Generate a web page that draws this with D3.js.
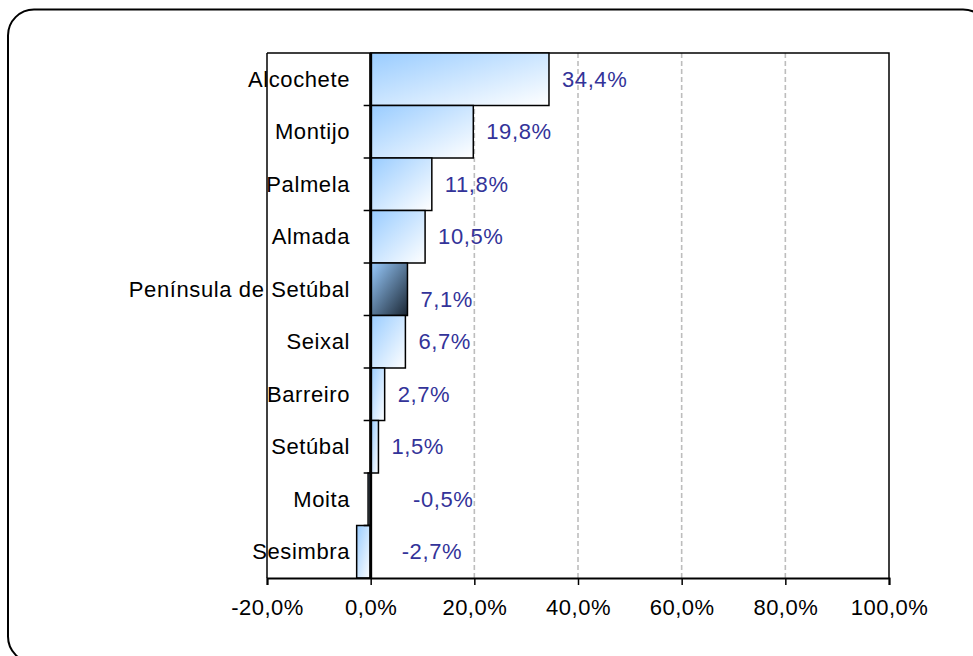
<!DOCTYPE html>
<html><head><meta charset="utf-8">
<script src="https://cdn.jsdelivr.net/npm/d3@7"></script>
<style>html,body{margin:0;padding:0;background:#fff;overflow:hidden}</style>
</head><body>
<svg id="chart" width="973" height="656"></svg>
<script>
const categories = ["Alcochete","Montijo","Palmela","Almada","Península de Setúbal","Seixal","Barreiro","Setúbal","Moita","Sesimbra"];
const values = [34.4, 19.8, 11.8, 10.5, 7.1, 6.7, 2.7, 1.5, -0.5, -2.7];
const highlight = "Península de Setúbal";
const xTicks = [-20, 0, 20, 40, 60, 80, 100];

(function () {
const svg = d3.select("#chart");
const fmt = v => d3.format(".1f")(v).replace("\u2212", "-").replace(".", ",") + "%";
const font = "'Liberation Sans', Arial, sans-serif";

const pL = 267, pR = 889, pT = 53, pB = 578;
const x = d3.scaleLinear().domain([-20, 100]).range([pL, pR]);
const y = d3.scaleBand().domain(categories).range([pT, pB]).padding(0);

// outer rounded frame
svg.append("rect").attr("x", 8).attr("y", 9.5).attr("width", 981).attr("height", 653)
  .attr("rx", 26).attr("ry", 26).attr("fill", "#fff").attr("stroke", "#000").attr("stroke-width", 2);

const defs = svg.append("defs");
const gBlue = defs.append("linearGradient").attr("id", "gBlue").attr("x1", "0").attr("y1", "0").attr("x2", "1").attr("y2", "1");
gBlue.append("stop").attr("offset", "0").attr("stop-color", "#99ccff");
gBlue.append("stop").attr("offset", "1").attr("stop-color", "#ffffff");
const gDark = defs.append("linearGradient").attr("id", "gDark").attr("x1", "0").attr("y1", "0").attr("x2", "1").attr("y2", "1");
gDark.append("stop").attr("offset", "0").attr("stop-color", "#99ccff");
gDark.append("stop").attr("offset", "1").attr("stop-color", "#1a2633");

// gridlines
svg.append("g").selectAll("line").data(xTicks.filter(t => t > 0 && t < 100)).join("line")
  .attr("x1", d => x(d)).attr("x2", d => x(d)).attr("y1", pT).attr("y2", pB)
  .attr("stroke", "#bdbdbd").attr("stroke-width", 1.6).attr("stroke-dasharray", "5,3");

// plot border
svg.append("path").attr("d", `M${pL},${pT}H${pR}V${pB}`).attr("fill", "none")
  .attr("stroke", "#000").attr("stroke-width", 1.5);
svg.append("line").attr("x1", pL).attr("x2", pL).attr("y1", pT).attr("y2", pB)
  .attr("stroke", "#000").attr("stroke-width", 1.5);

// bars
svg.append("g").selectAll("rect").data(values).join("rect")
  .attr("x", d => x(Math.min(0, d))).attr("width", d => Math.abs(x(d) - x(0)))
  .attr("y", (d, i) => y(categories[i])).attr("height", y.bandwidth())
  .attr("fill", (d, i) => categories[i] === highlight ? "url(#gDark)" : "url(#gBlue)")
  .attr("stroke", "#000").attr("stroke-width", 1.5);

// x axis
const xAxis = svg.append("g").attr("transform", `translate(0,${pB})`)
  .call(d3.axisBottom(x).tickValues(xTicks).tickFormat(fmt).tickSize(7).tickPadding(14));
xAxis.select(".domain").attr("stroke-width", 2);
xAxis.selectAll(".tick line").attr("stroke-width", 1.5);
xAxis.selectAll("text").attr("font-family", font).attr("font-size", 22).attr("fill", "#000")
  .style("letter-spacing", "0.5px");

// y axis line at 0 with ticks at category boundaries
svg.append("line").attr("x1", x(0)).attr("x2", x(0)).attr("y1", pT).attr("y2", pB)
  .attr("stroke", "#000").attr("stroke-width", 3);
svg.append("g").selectAll("line").data(categories.slice(1)).join("line")
  .attr("x1", x(0) - 7).attr("x2", x(0)).attr("y1", d => y(d)).attr("y2", d => y(d))
  .attr("stroke", "#000").attr("stroke-width", 1.5);

// category labels
svg.append("g").selectAll("text").data(categories).join("text")
  .attr("x", 350).attr("y", d => y(d) + y.bandwidth() / 2).attr("dy", "0.35em")
  .attr("text-anchor", "end").attr("font-family", font).attr("font-size", 22).attr("fill", "#000")
  .style("letter-spacing", "0.6px").text(d => d);

// value labels
svg.append("g").selectAll("text").data(values).join("text")
  .attr("x", d => d >= 0 ? x(d) + 13 : x(d) + 45)
  .attr("y", (d, i) => y(categories[i]) + y.bandwidth() / 2 + (categories[i] === highlight ? 10 : 0))
  .attr("dy", "0.35em").attr("font-family", font).attr("font-size", 22).attr("fill", "#333399")
  .style("letter-spacing", "0.6px").text(fmt);
})();
</script>
</body></html>
